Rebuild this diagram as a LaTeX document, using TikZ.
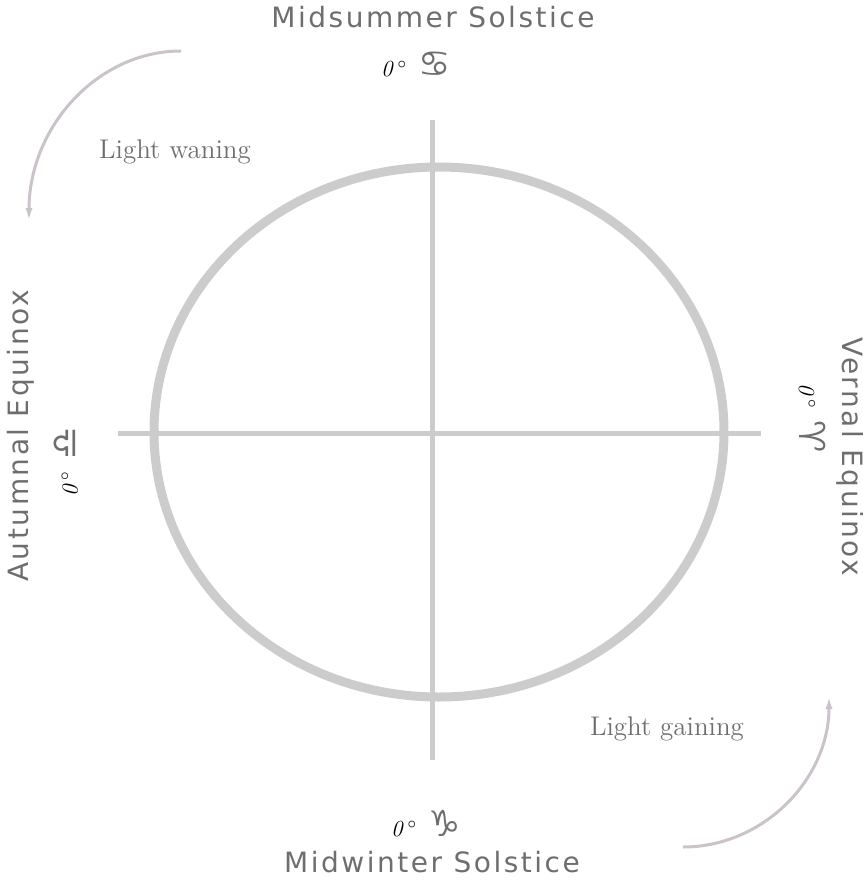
\documentclass[tikz,border=0pt]{standalone}
\usepackage{fontspec}
\usetikzlibrary{arrows.meta}
\newfontfamily\uncialfont[LetterSpace=9]{DejaVu Sans}
\newfontfamily\signfont{DejaVu Sans}
\definecolor{ringgray}{HTML}{CCCCCC}
\definecolor{labelgray}{HTML}{6E6E6E}
\definecolor{arrowgray}{HTML}{CAC3CA}
\begin{document}
\begin{tikzpicture}[
  x=0.5pt, y=-0.5pt,
  season/.style={
    text=labelgray,
    font=\uncialfont\fontsize{14}{16}\selectfont,
    inner sep=0pt
  },
  degree/.style={
    font=\fontsize{11.5}{14}\selectfont,
    inner sep=0pt
  },
  light/.style={
    text=labelgray,
    font=\fontsize{13.5}{16}\selectfont,
    inner sep=0pt
  },
  axis/.style={draw=ringgray, line width=2.5pt},
  ring/.style={draw=ringgray, line width=4.5pt},
  turn/.style={draw=arrowgray, line width=1.5pt,
    -{Latex[length=7pt,width=3.5pt]}}
]
\useasboundingbox (0,0) rectangle (863,880);

% axes and year circle
\coordinate (west) at (118,433);
\coordinate (east) at (761,433);
\coordinate (north) at (432,120);
\coordinate (south) at (432,760);
\draw[axis] (west) -- (east);
\draw[axis] (north) -- (south);
\draw[ring] (439,432) ellipse[x radius=285, y radius=265];

% solstices and equinoxes
\node[season] (summer) at (433,17) {Midsummer Solstice};
\node[degree] (cancer) at (416,65) {\textit{0}\,$^\circ$\enspace{\signfont\color{labelgray}\fontsize{18}{18}\selectfont ♋}};
\node[season] (winter) at (432,862) {Midwinter Solstice};
\node[degree] (capricorn) at (426,824) {\textit{0}\,$^\circ$\enspace{\signfont\color{labelgray}\fontsize{18}{18}\selectfont ♑}};
\node[season, rotate=90] (autumn) at (21,436) {Autumnal Equinox};
\node[degree, rotate=90] (libra) at (66,462) {\textit{0}\,$^\circ$\enspace{\signfont\color{labelgray}\fontsize{18}{18}\selectfont ♎}};
\node[season, rotate=-90] (spring) at (850,457) {Vernal Equinox};
\node[degree, rotate=-90] (aries) at (812,418) {\textit{0}\,$^\circ$\enspace{\signfont\color{labelgray}\fontsize{18}{18}\selectfont ♈}};

% light waning / gaining
\node[light] (waning) at (175,152) {Light waning};
\node[light] (gaining) at (667,729) {Light gaining};
\coordinate (waneStart) at (181,51);
\coordinate (gainStart) at (683,847);
\draw[turn] (waneStart) arc[start angle=270, end angle=180, x radius=152, y radius=171];
\draw[turn] (gainStart) arc[start angle=90, end angle=0, x radius=146, y radius=152];
\end{tikzpicture}
\end{document}
